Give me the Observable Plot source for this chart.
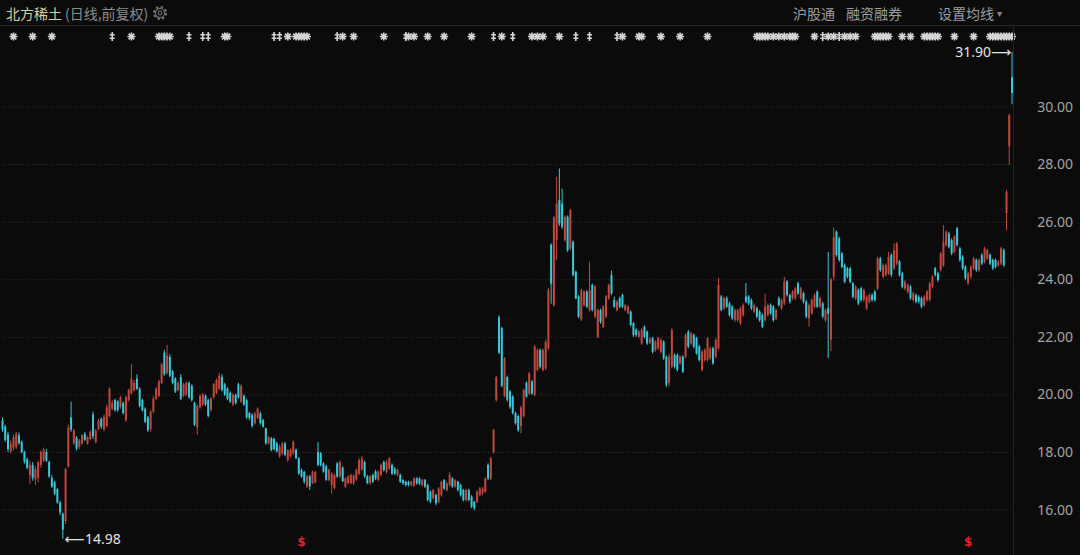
<!DOCTYPE html>
<html><head><meta charset="utf-8">
<script src="https://cdn.jsdelivr.net/npm/d3@7"></script>
<script src="https://cdn.jsdelivr.net/npm/@observablehq/plot@0.6"></script>
<style>
html,body{margin:0;padding:0;background:#0b0b0b;overflow:hidden}
#wrap{position:relative;width:1080px;height:555px;background:#0b0b0b;font-family:"Noto Sans CJK SC","Noto Sans",sans-serif}
#chart{position:absolute;left:0;top:0}
.hline{position:absolute;left:0;top:25px;width:1080px;height:1px;background:#262626}
.vline{position:absolute;left:1013px;top:25px;width:1px;height:530px;background:#222}
#title{position:absolute;left:6px;top:2px;font-size:14px;line-height:22px;white-space:nowrap;display:flex;align-items:center}
#title .name{color:#d9cf98}
#title .sub{color:#8c8c8c;margin-left:3px}
#title svg{margin-left:4px}
#menu{position:absolute;top:2px;left:0;font-size:14px;line-height:22px;color:#9d9d9d}
#menu span{position:absolute;white-space:nowrap}
</style></head>
<body>
<div id="wrap">
  <div id="chart"></div>
  <div class="hline"></div>
  <div class="vline"></div>
  <div id="title"><span class="name"></span><span class="sub"></span>
    <svg width="16" height="16" viewBox="0 0 16 16"><circle cx="8" cy="8" r="6" fill="none" stroke="#6f6f6f" stroke-width="2.2" stroke-dasharray="2.4 2.3"/><circle cx="8" cy="8" r="4.6" fill="none" stroke="#6f6f6f" stroke-width="1.2"/><circle cx="8" cy="8" r="1.8" fill="none" stroke="#6f6f6f" stroke-width="1.2"/></svg>
  </div>
  <div id="menu"></div>
</div>
<script>
// ---- data: daily OHLC (前复权), one value per trading day ----
const open = [
19.10,18.88,18.60,18.02,18.13,18.18,18.58,18.35,18.00,17.75,
17.20,17.55,17.05,17.10,17.55,17.70,18.00,17.65,17.10,16.95,
16.70,16.25,15.85,15.60,17.50,19.20,18.30,18.50,18.18,18.30,
18.62,18.30,18.45,19.30,18.35,18.80,19.15,18.78,18.90,19.25,
19.50,19.80,19.75,19.55,19.70,19.10,19.80,20.05,20.15,20.55,
20.20,19.80,19.50,19.20,18.80,19.40,19.85,19.95,20.40,21.45,
20.75,21.30,20.80,20.55,20.15,20.60,19.95,20.00,20.40,20.30,
19.70,18.85,19.55,19.65,19.95,19.80,19.45,19.90,20.05,20.20,
20.60,20.35,20.20,20.05,19.65,19.98,20.35,19.75,19.95,19.80,
19.35,19.28,19.00,19.18,19.33,19.10,18.82,18.30,18.47,18.45,
18.30,17.85,17.95,18.30,17.72,17.85,17.95,18.07,17.78,17.37,
17.30,16.80,17.15,16.92,16.95,18.00,17.95,17.60,17.50,17.03,
16.85,16.75,17.60,17.15,17.45,16.80,16.92,16.92,16.92,17.05,
17.25,17.40,17.65,17.15,16.92,17.20,17.32,17.03,17.20,17.65,
17.30,17.43,17.55,17.42,17.20,17.20,17.02,16.97,16.96,16.85,
16.82,17.08,17.08,16.85,17.02,16.85,16.62,16.39,16.50,16.27,
16.50,17.02,16.68,16.85,17.08,16.80,16.97,16.85,16.68,16.33,
16.68,16.45,16.27,16.27,16.50,16.56,16.62,17.55,17.08,18.00,
19.80,22.68,22.30,19.95,20.60,20.10,19.92,19.35,19.25,18.90,
19.25,20.40,20.03,20.45,19.98,20.85,21.54,20.85,20.90,21.60,
25.20,23.10,25.36,26.75,26.63,25.36,26.17,25.07,25.30,24.26,
23.40,22.60,23.10,23.57,22.93,23.80,22.70,22.00,22.93,22.35,
22.70,23.34,24.15,23.28,22.93,23.34,23.45,22.93,22.82,22.87,
22.47,22.24,22.00,21.77,22.35,22.18,21.80,21.95,21.54,21.60,
21.48,21.83,21.30,20.40,20.96,21.37,21.37,21.08,21.31,21.31,
22.18,21.77,22.06,21.95,21.66,20.85,21.19,21.19,21.25,21.60,
21.31,21.60,23.40,22.99,23.34,23.16,23.05,22.58,22.58,22.47,
22.76,23.40,23.40,23.28,22.87,22.99,22.87,22.76,22.58,22.76,
23.10,23.05,22.64,23.34,22.99,23.16,23.92,23.45,23.34,23.34,
23.86,23.34,23.51,23.22,22.64,22.82,23.05,23.57,23.05,23.16,
22.58,23.00,21.90,24.10,25.65,25.42,24.90,24.49,24.38,24.38,
23.86,23.34,23.62,23.68,23.28,22.99,23.22,23.45,23.57,23.68,
24.72,24.09,24.15,24.20,24.84,24.38,24.55,24.61,24.20,23.68,
23.57,23.74,23.28,23.45,23.39,23.34,23.10,23.28,23.28,23.74,
24.38,24.20,24.32,24.49,25.19,25.59,25.36,24.95,25.77,25.07,
24.78,24.43,23.86,24.09,24.38,24.67,24.32,24.84,24.61,24.72,
24.84,24.67,24.67,24.49,24.55,25.01,26.30,28.62,31.02];
const high = [
19.20,18.95,18.70,18.40,18.60,18.70,18.68,18.40,18.05,17.80,
17.70,17.65,17.50,17.70,18.05,18.15,18.10,17.70,17.20,17.00,
16.75,16.30,15.90,17.45,18.95,19.75,18.80,18.55,18.45,18.62,
18.70,18.55,18.75,19.40,18.80,19.15,19.20,19.30,19.65,20.25,
19.80,19.85,19.80,19.95,19.75,19.95,20.20,21.05,20.50,20.70,
20.25,19.85,19.55,19.25,19.45,19.95,20.25,20.50,21.10,21.55,
21.72,21.40,20.85,20.60,20.45,20.70,20.40,20.45,20.45,20.35,
19.75,19.65,20.00,20.05,20.00,19.85,19.90,20.40,20.55,20.75,
20.70,20.40,20.25,20.10,20.05,20.02,20.40,20.35,20.00,19.85,
19.40,19.35,19.40,19.55,19.40,19.15,18.85,18.55,18.52,18.50,
18.35,18.25,18.35,18.35,18.10,18.12,18.40,18.12,17.82,17.42,
17.35,17.20,17.20,17.35,17.35,18.35,18.00,17.65,17.55,17.42,
17.30,17.25,17.65,17.70,17.50,17.12,17.20,17.25,17.22,17.42,
17.78,17.85,17.70,17.20,17.20,17.25,17.38,17.36,17.60,17.70,
17.72,17.82,17.60,17.48,17.42,17.25,17.06,17.00,17.00,17.00,
17.12,17.12,17.12,17.06,17.06,16.90,16.66,16.72,16.55,16.78,
17.00,17.06,16.95,17.30,17.12,17.06,17.00,16.90,16.72,16.72,
16.72,16.50,16.30,16.66,16.78,16.78,17.12,17.60,17.82,18.80,
20.65,22.75,22.35,21.30,20.65,20.15,19.97,19.40,19.30,19.60,
20.20,20.45,20.78,20.50,21.72,21.60,21.60,21.60,21.90,23.70,
25.25,26.20,27.56,27.85,27.15,26.22,26.22,26.45,25.35,24.30,
23.45,23.68,23.62,23.62,24.61,23.85,23.80,22.98,22.98,23.10,
23.45,23.85,24.30,23.40,23.28,23.40,23.50,23.15,23.10,22.92,
22.52,22.30,22.24,22.30,22.40,22.22,22.00,22.00,21.88,22.00,
21.95,21.88,21.35,21.40,22.30,21.42,21.42,21.36,21.36,22.12,
22.24,22.18,22.12,22.00,21.72,21.54,21.60,22.00,21.66,21.66,
21.95,24.05,23.45,23.40,23.40,23.22,23.10,22.98,22.98,23.05,
23.16,23.87,23.45,23.34,23.16,23.05,22.93,22.82,23.50,23.16,
23.16,23.10,22.98,23.40,23.34,24.08,23.97,23.50,23.62,23.74,
23.92,23.74,23.57,23.28,23.16,23.34,23.50,23.62,23.40,23.22,
22.98,24.95,24.05,25.80,25.70,25.48,24.95,24.55,24.43,24.43,
23.91,23.80,23.68,23.74,23.68,23.45,23.51,23.51,23.62,24.78,
24.78,24.55,24.55,24.95,24.90,25.25,25.30,24.67,24.26,23.97,
23.86,23.80,23.57,23.51,23.45,23.39,23.45,23.62,23.91,24.15,
24.43,24.26,24.95,25.88,25.70,25.65,25.42,25.53,25.82,25.13,
24.84,24.49,24.26,24.49,24.78,24.72,24.72,24.90,25.13,25.07,
24.90,24.72,24.72,24.67,25.13,25.07,27.10,29.75,31.90];
const low = [
18.70,18.35,18.00,17.95,18.05,18.10,18.25,17.95,17.60,17.40,
16.90,17.00,16.85,16.95,17.45,17.65,17.65,17.10,16.75,16.50,
16.20,15.80,14.98,15.50,17.45,18.70,18.25,18.05,18.10,18.25,
18.38,18.25,18.40,18.45,18.30,18.75,18.80,18.72,18.85,19.20,
19.45,19.40,19.40,19.50,19.30,19.05,19.75,20.00,20.10,20.15,
19.55,19.40,19.00,18.70,18.70,19.35,19.80,19.90,20.35,20.65,
20.70,20.60,20.35,20.05,20.10,19.80,19.90,19.95,19.85,19.75,
18.90,18.60,19.50,19.60,19.60,19.20,19.40,19.85,20.00,20.15,
20.10,19.95,19.80,19.70,19.60,19.65,19.85,19.70,19.60,19.15,
19.10,18.85,18.95,19.15,18.95,18.85,18.25,18.25,18.02,18.05,
17.98,17.80,17.90,17.85,17.65,17.80,17.90,17.75,17.20,17.10,
16.90,16.75,16.68,16.88,16.90,17.50,17.50,17.28,17.00,16.98,
16.55,16.70,17.10,17.10,16.95,16.75,16.88,16.88,16.85,17.00,
17.20,17.35,17.10,16.88,16.85,16.92,17.02,16.98,17.15,17.32,
17.25,17.38,17.20,17.20,17.15,16.92,16.86,16.80,16.80,16.80,
16.78,16.86,16.85,16.80,16.75,16.28,16.22,16.35,16.15,16.22,
16.45,16.68,16.62,16.80,16.75,16.75,16.62,16.45,16.28,16.28,
16.28,16.05,15.98,16.22,16.45,16.50,16.58,17.02,17.02,17.95,
19.75,21.40,20.25,19.90,19.75,19.50,19.30,18.95,18.70,18.65,
19.20,19.88,19.98,19.98,19.93,20.80,20.90,20.80,20.85,21.55,
23.15,23.05,24.67,25.85,25.75,25.30,24.95,25.00,24.10,23.30,
22.65,22.55,23.05,23.00,22.88,22.88,22.65,21.95,22.45,22.30,
22.65,23.28,23.45,23.00,22.88,23.00,23.00,22.88,22.78,22.36,
22.00,22.00,21.95,21.72,21.95,21.72,21.75,21.42,21.48,21.55,
21.42,21.20,20.25,20.28,20.90,20.90,20.80,21.02,20.74,21.25,
21.60,21.72,21.60,21.38,21.14,20.80,21.14,21.14,21.20,21.02,
21.25,21.55,22.88,22.93,23.00,22.70,22.58,22.52,22.52,22.40,
22.70,23.16,23.10,22.93,22.82,22.64,22.52,22.30,22.52,22.70,
22.76,22.52,22.58,23.05,22.93,23.10,23.40,23.16,23.28,23.28,
23.45,23.28,23.16,22.64,22.35,22.76,23.00,23.00,23.00,22.64,
22.52,21.26,21.50,23.95,24.78,24.60,24.38,23.86,24.03,23.86,
23.34,23.28,23.10,23.22,23.22,22.93,23.16,23.22,23.22,23.62,
24.26,24.03,24.09,24.15,24.09,24.32,24.49,24.09,23.68,23.62,
23.51,23.28,23.22,23.16,23.16,22.99,23.05,23.22,23.22,23.68,
24.09,23.91,24.26,24.43,25.13,25.07,24.84,24.90,25.13,24.61,
24.32,23.97,23.80,24.03,24.32,24.26,24.26,24.49,24.55,24.67,
24.49,24.32,24.38,24.43,24.49,24.43,25.70,27.98,30.08];
const close = [
18.78,18.42,18.10,18.28,18.52,18.62,18.30,18.00,17.66,17.45,
17.55,17.10,17.40,17.65,18.00,18.08,17.70,17.15,16.80,16.55,
16.25,15.90,15.30,17.40,18.85,18.78,18.75,18.12,18.40,18.58,
18.42,18.52,18.70,18.55,18.75,19.08,18.88,19.22,19.55,20.20,
19.70,19.45,19.45,19.90,19.35,19.90,20.15,20.55,20.40,20.20,
19.60,19.45,19.05,18.75,19.40,19.85,20.20,20.45,21.05,20.70,
21.35,20.65,20.40,20.10,20.40,19.85,20.35,20.40,19.90,19.80,
18.95,19.60,19.95,20.00,19.65,19.25,19.85,20.35,20.50,20.65,
20.15,19.98,19.85,19.75,19.98,19.70,19.90,20.30,19.65,19.20,
19.18,18.90,19.33,19.50,19.00,18.88,18.30,18.52,18.07,18.10,
18.02,18.18,18.30,17.90,18.05,18.07,18.35,17.78,17.25,17.15,
16.97,17.15,16.80,17.30,17.30,17.55,17.55,17.32,17.03,17.38,
17.25,17.20,17.15,17.65,16.98,17.08,17.15,17.20,17.18,17.38,
17.72,17.78,17.15,16.92,17.15,16.97,17.08,17.32,17.55,17.37,
17.65,17.78,17.25,17.25,17.38,16.97,16.91,16.85,16.85,16.97,
17.08,16.91,16.90,17.02,16.80,16.33,16.27,16.68,16.22,16.73,
16.97,16.73,16.91,17.20,16.80,17.02,16.68,16.50,16.33,16.68,
16.33,16.10,16.04,16.62,16.73,16.73,17.08,17.08,17.78,18.76,
20.60,21.45,20.30,21.25,19.82,19.57,19.35,19.00,18.76,19.55,
20.15,19.92,20.73,20.03,21.66,21.54,20.96,21.54,21.83,23.62,
23.85,26.15,26.63,25.94,25.82,26.17,25.01,26.40,24.15,23.34,
22.70,23.62,23.57,23.05,23.62,22.93,23.74,22.93,22.52,23.05,
23.40,23.80,23.51,23.05,23.22,23.05,23.05,23.10,23.05,22.41,
22.06,22.06,22.18,22.24,22.00,21.77,21.92,21.48,21.83,21.95,
21.89,21.25,20.33,21.30,22.24,20.96,20.85,21.31,20.79,22.06,
21.66,22.12,21.66,21.42,21.19,21.48,21.54,21.95,21.60,21.08,
21.89,23.80,22.93,23.34,23.05,22.76,22.64,22.93,22.93,22.99,
23.10,23.22,23.16,22.99,23.10,22.70,22.58,22.35,23.05,23.10,
22.82,22.58,22.93,23.10,23.28,23.92,23.45,23.22,23.57,23.68,
23.51,23.68,23.22,22.70,23.10,23.28,23.45,23.05,23.34,22.70,
22.93,22.80,24.00,25.45,24.84,24.67,24.43,23.91,24.09,23.91,
23.39,23.74,23.16,23.28,23.62,23.39,23.45,23.28,23.28,24.72,
24.32,24.49,24.49,24.78,24.15,25.01,25.24,24.15,23.74,23.91,
23.80,23.34,23.51,23.22,23.22,23.05,23.39,23.57,23.86,24.09,
24.15,23.97,24.90,25.30,25.65,25.13,24.90,25.48,25.19,24.67,
24.38,24.03,24.20,24.43,24.72,24.32,24.67,24.55,25.07,25.01,
24.55,24.38,24.43,24.61,25.07,24.49,27.04,29.70,30.47];

// event markers shown in the strip under the header (trading-day index)
const starEvents = [4,11,18,47,57,58,59,60,61,81,82,104,107,108,109,110,111,124,128,139,148,150,155,161,171,182,193,195,197,203,226,232,233,240,247,257,
  275,276,277,278,279,281,283,285,287,288,289,296,301,303,307,309,311,318,319,320,321,322,323,328,331,336,337,338,339,340,341,347,354,360,361,362,363,364,365,366,367,368];
const barEvents = [40,68,73,75,99,101,122,147,179,186,209,214,224,299,305];
// dividend (除权) markers
const dividendDays = [109,352];

const yTicks = [16,18,20,22,24,26,28,30];
const stockName = "北方稀土";
const chartMode = "(日线,前复权)";
const menuItems = ["沪股通","融资融券","设置均线"];
const menuLeft = [793,846,938];

// ---- header ----
document.querySelector("#title .name").textContent = stockName;
document.querySelector("#title .sub").textContent = chartMode;
const menu = document.getElementById("menu");
menuItems.forEach((t,k)=>{const s=document.createElement("span");s.textContent=t;s.style.left=menuLeft[k]+"px";menu.appendChild(s);});
const caret=document.createElement("span");caret.textContent="▾";caret.style.left="997px";caret.style.fontSize="10px";caret.style.color="#8a8a8a";menu.appendChild(caret);

// ---- chart ----
const red = "#c0483f", cyan = "#39c8d9";
const data = open.map((o,i)=>({i, o, h:high[i], l:low[i], c:close[i]}));
const col = d => d.c >= d.o ? red : cyan;
const iMin = d3.minIndex(low), iMax = d3.maxIndex(high);
const N = open.length;

// custom marker symbols for the event strip
const starSymbol = {draw(ctx, size){const r=Math.sqrt(size/Math.PI);for(let k=0;k<4;k++){const a=k*Math.PI/4;ctx.moveTo(-r*Math.cos(a),-r*Math.sin(a));ctx.lineTo(r*Math.cos(a),r*Math.sin(a));}}};
const barSymbol = {draw(ctx, size){const r=Math.sqrt(size/Math.PI);ctx.moveTo(0,-r);ctx.lineTo(0,r);ctx.moveTo(-r*0.55,-r*0.4);ctx.lineTo(r*0.55,-r*0.4);ctx.moveTo(-r*0.55,r*0.4);ctx.lineTo(r*0.55,r*0.4);}};

const chart = Plot.plot({
  width: 1080, height: 555,
  marginLeft: 2, marginRight: 68.5, marginTop: 49, marginBottom: 16.7,
  x: {domain: [0, N-1], axis: null},
  y: {domain: [15, 32], axis: null},
  color: {type: "identity"},
  style: {background: "#0b0b0b", fontFamily: "'Noto Sans', sans-serif"},
  marks: [
    Plot.ruleY(yTicks, {y: d=>d, stroke: "#333", strokeDasharray: "1,2", strokeWidth: 1}),
    Plot.text(yTicks, {y: d=>d, frameAnchor: "right", dx: 61, textAnchor: "end", text: d=>d.toFixed(2), fill: "#a3a3a3", fontSize: 14}),
    Plot.ruleX(data, {x: "i", y1: "l", y2: "h", stroke: col, strokeWidth: 1}),
    Plot.ruleX(data, {x: "i", y1: d=>Math.min(d.o,d.c), y2: d=>Math.max(d.o,d.c), stroke: col, strokeWidth: 2}),
    Plot.dot(starEvents, {x: d=>d, frameAnchor: "top", dy: -13, symbol: starSymbol, r: 4, stroke: "#d4d4d4", strokeWidth: 1.6, fill: "none"}),
    Plot.dot(barEvents, {x: d=>d, frameAnchor: "top", dy: -13, symbol: barSymbol, r: 4.5, stroke: "#d4d4d4", strokeWidth: 1.6, fill: "none"}),
    Plot.text(dividendDays, {x: d=>d, frameAnchor: "bottom", dy: 7, text: ()=>"$", fill: "#e02424", fontSize: 12, fontWeight: "bold", fontFamily: "DejaVu Sans"}),
    Plot.text([iMin], {x: d=>d, y: d=>low[d], text: d=>"⟵"+low[d].toFixed(2), textAnchor: "start", dx: 2, fill: "#e4e4e4", fontSize: 14, fontFamily: "'Noto Sans','DejaVu Sans',sans-serif"}),
    Plot.text([iMax], {x: d=>d, y: d=>high[d], text: d=>high[d].toFixed(2)+"⟶", textAnchor: "end", dx: -1, fill: "#e4e4e4", fontSize: 14, fontFamily: "'Noto Sans','DejaVu Sans',sans-serif"})
  ]
});
document.getElementById("chart").appendChild(chart);
</script>
</body></html>
